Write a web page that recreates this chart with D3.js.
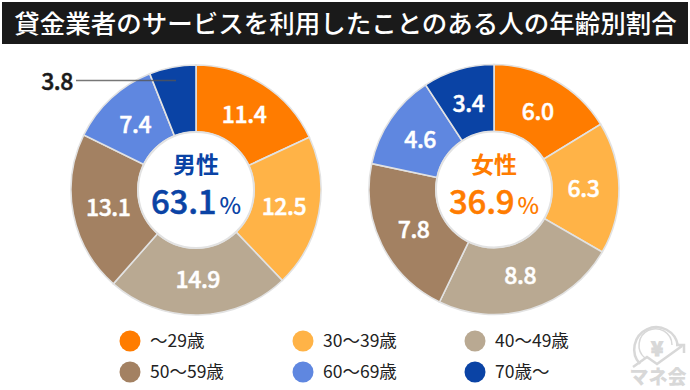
<!DOCTYPE html>
<html><head><meta charset="utf-8">
<script src="https://cdn.jsdelivr.net/npm/d3@7"></script>
<style>html,body{margin:0;padding:0;background:#fff}svg{display:block}text{font-family:"Noto Sans CJK JP","Noto Sans",sans-serif}</style>
</head><body><svg id="c" width="690" height="390"></svg>
<script>
const categories=["～29歳","30～39歳","40～49歳","50～59歳","60～69歳","70歳～"];
const colors=["#ff7c00","#ffb347","#b9a992","#a38162","#5f87e0","#0a43a5"];
const maleValues=[11.4,12.5,14.9,13.1,7.4,3.8];
const femaleValues=[6.0,6.3,8.8,7.8,4.6,3.4];
const titleText="貸金業者のサービスを利用したことのある人の年齢別割合";
const svg=d3.select("#c");
svg.append("rect").attr("x",2).attr("y",2).attr("width",686).attr("height",42).attr("fill","#1a1a1a");
svg.append("text").attr("x",345.5).attr("y",33).attr("text-anchor","middle").attr("fill","#fff").attr("font-size",25.5).attr("font-weight",500).text(titleText);
const R=125,r=58;
const pie=d3.pie().sort(null);
const arc=d3.arc().innerRadius(r).outerRadius(R);
const labelArc=d3.arc().innerRadius(89.5).outerRadius(89.5);
function donut(cx,cy,vals,skipIdx){
  const g=svg.append("g").attr("transform",`translate(${cx},${cy})`);
  g.selectAll("path").data(pie(vals)).join("path").attr("d",arc).attr("fill",(d,i)=>colors[i]).attr("stroke","#e2e2e2").attr("stroke-width",1.6);
  g.append("circle").attr("r",r).attr("fill","#fff").attr("stroke","#e2e2e2").attr("stroke-width",2);
  g.selectAll("text.v").data(pie(vals)).join("text").attr("class","v")
   .filter((d,i)=>i!==skipIdx)
   .attr("transform",d=>`translate(${labelArc.centroid(d)})`).attr("text-anchor","middle").attr("dy","0.38em")
   .attr("fill","#fff").attr("stroke","#fff").attr("stroke-width",0.5).attr("font-size",23).attr("font-weight",500).attr("letter-spacing",-0.4).text(d=>d3.format(".1f")(d.value));
  return g;
}
const gm=donut(196,190,maleValues,5);
const gf=donut(494,189.5,femaleValues,-1);
function center(g,label,pct,col){
  g.append("text").attr("y",-17).attr("text-anchor","middle").attr("fill",col).attr("font-size",23).attr("font-weight",700).text(label);
  const t=g.append("text").attr("y",24).attr("text-anchor","middle").attr("fill",col).attr("stroke",col).attr("stroke-width",0.5).attr("font-weight",500);
  t.append("tspan").attr("font-size",33).attr("letter-spacing",-0.2).text(pct);
  t.append("tspan").attr("font-size",23).attr("stroke-width",0).attr("font-weight",500).attr("dx",3).text("%");
}
center(gm,"男性","63.1",colors[5]);
center(gf,"女性","36.9",colors[0]);
// callout
svg.append("line").attr("x1",76).attr("x2",176).attr("y1",80.5).attr("y2",80.5).attr("stroke","#555").attr("stroke-opacity",.8).attr("stroke-width",1.5);
svg.append("text").attr("x",73).attr("y",90).attr("text-anchor","end").attr("fill","#1a1a1a").attr("stroke","#1a1a1a").attr("stroke-width",0.5).attr("font-size",23).attr("font-weight",500).attr("letter-spacing",-0.4).text(d3.format(".1f")(maleValues[5]));
// legend
const lx=[130,303,475],ly=[341,372];
const lg=svg.append("g");
categories.forEach((c,i)=>{
  const x=lx[i%3],y=ly[Math.floor(i/3)];
  lg.append("circle").attr("cx",x).attr("cy",y).attr("r",10.5).attr("fill",colors[i]);
  lg.append("text").attr("x",x+20).attr("y",y+6).attr("fill","#222").attr("font-size",17.5).text(c);
});
// logo
const lo=svg.append("g").attr("fill","none").attr("stroke","#d8d8d8").attr("stroke-width",2.5);
lo.append("path").attr("d","M640 364 A22 22 0 1 1 678 346");
lo.append("path").attr("d","M645 358 A16.5 16.5 0 1 1 672 345").attr("stroke-width",1.5);
lo.append("path").attr("d","M633 367 L647 357 L657 364 L682 346 M676 345 L684 345 L684 353");
svg.append("text").attr("x",657).attr("y",356).attr("text-anchor","middle").attr("fill","#d8d8d8").attr("stroke","#d8d8d8").attr("stroke-width",1).attr("font-size",20).attr("font-weight",900).text("¥");
svg.append("text").attr("x",658).attr("y",384.3).attr("text-anchor","middle").attr("fill","#d8d8d8").attr("font-size",19).attr("font-weight",900).text("マネ会");
</script></body></html>
